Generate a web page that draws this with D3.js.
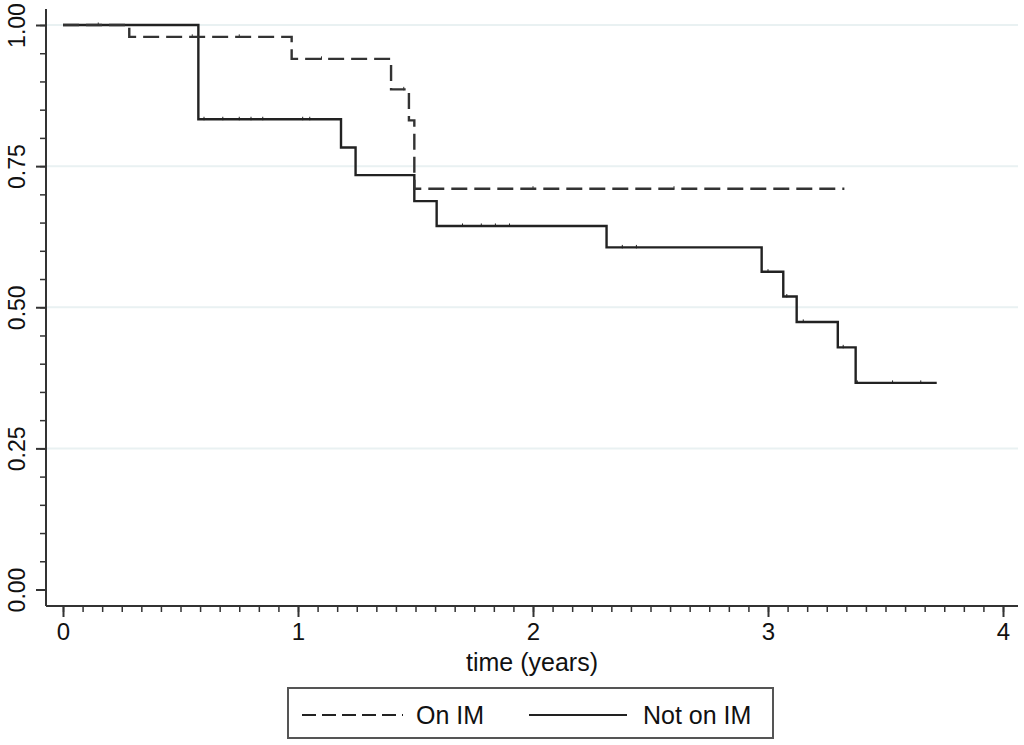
<!DOCTYPE html>
<html>
<head>
<meta charset="utf-8">
<script src="https://cdnjs.cloudflare.com/ajax/libs/d3/7.8.5/d3.min.js"></script>
<style>
  body { margin: 0; background: #fff; }
  .km-plot text { font-family: "Liberation Sans", Arial, sans-serif; fill: #111; }
  .axis path, .axis line { stroke: #333; }
</style>
</head>
<body>
<div class="km-plot"></div>
<script>
// Kaplan-Meier step data
var onImTimes = [0, 0.282, 0.973, 1.396, 1.472, 1.495, 3.325];
var onImSurv  = [1.0, 0.979, 0.940, 0.886, 0.831, 0.710, 0.710];

var notOnImTimes = [0, 0.576, 1.183, 1.245, 1.495, 1.590, 2.313, 2.973, 3.065, 3.122, 3.297, 3.373, 3.718];
var notOnImSurv  = [1.0, 0.833, 0.783, 0.734, 0.688, 0.644, 0.606, 0.563, 0.519, 0.474, 0.429, 0.366, 0.366];

// censoring marks (time only, survival is looked up on the curve)
var notOnImCensored = [0.60, 0.68, 0.75, 0.80, 0.85, 1.02, 1.05, 1.70, 1.78, 1.84, 1.90, 2.38, 2.44, 3.00, 3.08, 3.15, 3.32, 3.38, 3.53, 3.65];
var onImCensored = [0.15, 0.55, 0.75, 1.10, 1.45, 2.0, 2.6];

var xTickValues = [0, 1, 2, 3, 4];
var yTickValues = [0, 0.25, 0.5, 0.75, 1];
var xLabel = "time (years)";
var legendLabels = ["On IM", "Not on IM"];

var W = 1024, H = 745;

var svg = d3.select(".km-plot").append("svg")
    .attr("width", W)
    .attr("height", H);

var x = d3.scaleLinear().domain([0, 4]).range([63, 1003]);
var y = d3.scaleLinear().domain([0, 1]).range([589.5, 25]);

var axisLeftX = 46, axisBottomY = 606, axisRight = 1018, axisTop = 9;

// light grid lines
svg.selectAll(".grid")
    .data(yTickValues.filter(function (d) { return d > 0; }))
    .enter().append("line")
    .attr("class", "grid")
    .attr("x1", axisLeftX)
    .attr("x2", axisRight)
    .attr("y1", function (d) { return y(d); })
    .attr("y2", function (d) { return y(d); })
    .style("stroke", "#e9f1f2")
    .style("stroke-width", 2);

// axes lines
svg.append("line")
    .attr("x1", axisLeftX).attr("x2", axisLeftX)
    .attr("y1", axisTop).attr("y2", axisBottomY)
    .style("stroke", "#333").style("stroke-width", 2);
svg.append("line")
    .attr("x1", axisLeftX).attr("x2", axisRight)
    .attr("y1", axisBottomY).attr("y2", axisBottomY)
    .style("stroke", "#333").style("stroke-width", 2);

// x ticks: minor every month, major every year
var xMinor = d3.range(0, 48 + 1).map(function (i) { return i / 12; });
svg.append("g")
    .attr("class", "axis")
    .attr("transform", "translate(0," + axisBottomY + ")")
    .call(d3.axisBottom(x).tickValues(xMinor).tickSize(6).tickFormat(""))
    .call(function (g) { g.select(".domain").remove(); })
    .selectAll("line").style("stroke-width", 1.5);

var gx = svg.append("g")
    .attr("class", "axis")
    .attr("transform", "translate(0," + axisBottomY + ")")
    .call(d3.axisBottom(x).tickValues(xTickValues).tickSize(11).tickPadding(6)
        .tickFormat(d3.format("d")));
gx.select(".domain").remove();
gx.selectAll("line").style("stroke-width", 2);
gx.selectAll("text").style("font-size", "24px").attr("dy", "0.71em");

// y ticks: minor every 0.05, major every 0.25
var yMinor = d3.range(0, 21).map(function (i) { return i / 20; });
svg.append("g")
    .attr("class", "axis")
    .attr("transform", "translate(" + axisLeftX + ",0)")
    .call(d3.axisLeft(y).tickValues(yMinor).tickSize(6).tickFormat(""))
    .call(function (g) { g.select(".domain").remove(); })
    .selectAll("line").style("stroke-width", 1.5);

var gy = svg.append("g")
    .attr("class", "axis")
    .attr("transform", "translate(" + axisLeftX + ",0)")
    .call(d3.axisLeft(y).tickValues(yTickValues).tickSize(10).tickFormat(d3.format(".2f")));
gy.select(".domain").remove();
gy.selectAll("line").style("stroke-width", 2);
gy.selectAll("text")
    .style("font-size", "23px")
    .style("text-anchor", "middle")
    .attr("x", 0)
    .attr("dy", 0)
    .attr("transform", "translate(-21,0) rotate(-90)");

// axis title
svg.append("text")
    .attr("x", (axisLeftX + axisRight) / 2)
    .attr("y", 671)
    .style("text-anchor", "middle")
    .style("font-size", "25px")
    .text(xLabel);

// survival curves
var stepLine = d3.line()
    .x(function (d) { return x(d[0]); })
    .y(function (d) { return y(d[1]); })
    .curve(d3.curveStepAfter);

var notOnIm = d3.zip(notOnImTimes, notOnImSurv);
var onIm = d3.zip(onImTimes, onImSurv);

svg.append("path")
    .datum(notOnIm)
    .attr("d", stepLine)
    .style("fill", "none")
    .style("stroke", "#222")
    .style("stroke-width", 2.4);

svg.append("path")
    .datum(onIm)
    .attr("d", stepLine)
    .style("fill", "none")
    .style("stroke", "#333")
    .style("stroke-width", 2.4)
    .style("stroke-dasharray", "16,7");

// survival value at time t for a step curve
function survAt(times, surv, t) {
    var i = d3.bisectRight(times, t) - 1;
    return surv[Math.max(0, i)];
}

svg.selectAll(".cens-not")
    .data(notOnImCensored)
    .enter().append("line")
    .attr("class", "cens-not")
    .attr("x1", function (d) { return x(d); })
    .attr("x2", function (d) { return x(d); })
    .attr("y1", function (d) { return y(survAt(notOnImTimes, notOnImSurv, d)) - 2.5; })
    .attr("y2", function (d) { return y(survAt(notOnImTimes, notOnImSurv, d)) + 1; })
    .style("stroke", "#222")
    .style("stroke-width", 1);

svg.selectAll(".cens-on")
    .data(onImCensored)
    .enter().append("line")
    .attr("class", "cens-on")
    .attr("x1", function (d) { return x(d); })
    .attr("x2", function (d) { return x(d); })
    .attr("y1", function (d) { return y(survAt(onImTimes, onImSurv, d)) - 2.5; })
    .attr("y2", function (d) { return y(survAt(onImTimes, onImSurv, d)) + 1; })
    .style("stroke", "#333")
    .style("stroke-width", 1);

// legend
var legend = svg.append("g").attr("class", "legend");
legend.append("rect")
    .attr("x", 288).attr("y", 688)
    .attr("width", 485).attr("height", 50)
    .style("fill", "#fff")
    .style("stroke", "#555")
    .style("stroke-width", 2);

legend.append("line")
    .attr("x1", 302).attr("x2", 403).attr("y1", 715).attr("y2", 715)
    .style("stroke", "#222").style("stroke-width", 2)
    .style("stroke-dasharray", "14,6");
legend.append("text")
    .attr("x", 416).attr("y", 724)
    .style("font-size", "25px")
    .text(legendLabels[0]);

legend.append("line")
    .attr("x1", 529).attr("x2", 627).attr("y1", 715).attr("y2", 715)
    .style("stroke", "#222").style("stroke-width", 2);
legend.append("text")
    .attr("x", 643).attr("y", 724)
    .style("font-size", "25px")
    .text(legendLabels[1]);
</script>
</body>
</html>
